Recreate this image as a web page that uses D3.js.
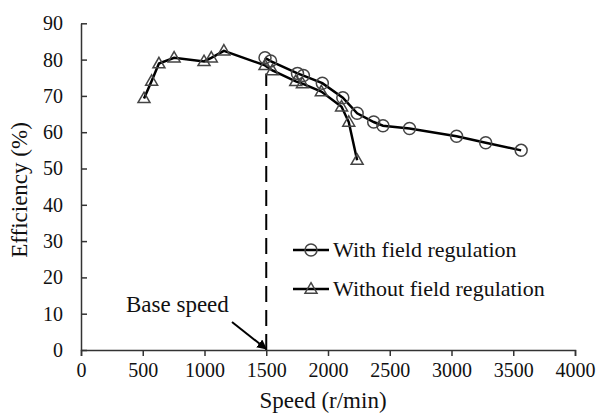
<!DOCTYPE html>
<html>
<head>
<meta charset="utf-8">
<script src="https://cdn.jsdelivr.net/npm/d3@7"></script>
<style>
  html, body { margin: 0; padding: 0; background: #fff; }
  svg { display: block; }
  text { font-family: "Liberation Serif", "Times New Roman", serif; fill: #111; }
</style>
</head>
<body>
<svg id="chart" width="600" height="414"></svg>
<script>
// ---- data ----
const xTicks = [0, 500, 1000, 1500, 2000, 2500, 3000, 3500, 4000];
const yTicks = [0, 10, 20, 30, 40, 50, 60, 70, 80, 90];

const withSpeed = [1490, 1535, 1753, 1801, 1954, 2120, 2236, 2370, 2445, 2660, 3041, 3277, 3564];
const withEff   = [80.5, 79.6, 76.2, 75.6, 73.5, 69.5, 65.2, 62.8, 61.8, 61.0, 58.9, 57.1, 55.0];

const withoutSpeed = [510, 572, 631, 754, 996, 1055, 1157, 1490, 1550, 1739, 1793, 1946, 2110, 2168, 2236];
const withoutEff   = [69.3, 74.1, 78.9, 80.5, 79.5, 80.5, 82.4, 78.4, 77.0, 74.0, 73.4, 71.2, 67.0, 62.8, 52.3];

const baseSpeed = 1500;
const baseEff = 80;
const seriesNames = ["With field regulation", "Without field regulation"];
const xTitle = "Speed (r/min)";
const yTitle = "Efficiency (%)";
const annotation = "Base speed";

// ---- chart ----
const svg = d3.select("#chart");
const x = d3.scaleLinear().domain([0, 4000]).range([81, 575]);
const y = d3.scaleLinear().domain([0, 90]).range([350, 23.3]);

const axisColor = "#333";

// defs for arrow
svg.append("defs").append("marker")
  .attr("id", "arrow").attr("viewBox", "0 0 10 10")
  .attr("refX", 9).attr("refY", 5)
  .attr("markerWidth", 5).attr("markerHeight", 5)
  .attr("orient", "auto")
  .append("path").attr("d", "M0,0 L10,5 L0,10 Z").attr("fill", "#000");

// axes
const gx = svg.append("g").attr("transform", `translate(0,${y(0)})`)
  .call(d3.axisBottom(x).tickValues(xTicks).tickSize(6).tickSizeOuter(6).tickPadding(7).tickFormat(d3.format("d")));
const gy = svg.append("g").attr("transform", `translate(${x(0)},0)`)
  .call(d3.axisLeft(y).tickValues(yTicks).tickSize(-6).tickSizeOuter(0).tickPadding(18).tickFormat(d3.format("d")));
[gx, gy].forEach(g => {
  g.selectAll("path, line").attr("stroke", axisColor).attr("stroke-width", 1.5);
  g.selectAll("text").attr("font-size", 20).attr("font-family", "Liberation Serif").attr("fill", "#111");
});

// titles
svg.append("text").attr("x", 323).attr("y", 408).attr("text-anchor", "middle")
  .attr("font-size", 23).text(xTitle);
svg.append("text").attr("transform", `translate(27,190) rotate(-90)`).attr("text-anchor", "middle")
  .attr("font-size", 23).text(yTitle);

// base speed dashed line
svg.append("line")
  .attr("x1", x(baseSpeed)).attr("x2", x(baseSpeed))
  .attr("y1", y(0)).attr("y2", y(baseEff) + 14)
  .attr("stroke", "#000").attr("stroke-width", 2).attr("stroke-dasharray", "16,8");

// annotation
svg.append("text").attr("x", 126).attr("y", 312).attr("font-size", 23).text(annotation);
svg.append("line")
  .attr("x1", 232).attr("y1", 322).attr("x2", x(baseSpeed)).attr("y2", y(0) - 1)
  .attr("stroke", "#000").attr("stroke-width", 2).attr("marker-end", "url(#arrow)");

// series
const withData = withSpeed.map((s, i) => ({ s, e: withEff[i] }));
const withoutData = withoutSpeed.map((s, i) => ({ s, e: withoutEff[i] }));
const line = d3.line().x(d => x(d.s)).y(d => y(d.e));

const triPath = (cx, cy, size) => {
  const h = size * 0.87;
  return `M${cx},${cy - h * 0.6} L${cx + size / 2},${cy + h * 0.4} L${cx - size / 2},${cy + h * 0.4} Z`;
};
const markerStroke = "#444";

svg.append("path").datum(withData).attr("d", line)
  .attr("fill", "none").attr("stroke", "#000").attr("stroke-width", 2.5);
svg.append("path").datum(withoutData).attr("d", line)
  .attr("fill", "none").attr("stroke", "#000").attr("stroke-width", 2.5);

svg.append("g").selectAll("path").data(withoutData).join("path")
  .attr("d", d => triPath(x(d.s), y(d.e), 12))
  .attr("fill", "none").attr("stroke", markerStroke).attr("stroke-width", 1.5);
svg.append("g").selectAll("circle").data(withData).join("circle")
  .attr("cx", d => x(d.s)).attr("cy", d => y(d.e)).attr("r", 6)
  .attr("fill", "none").attr("stroke", markerStroke).attr("stroke-width", 1.5);

// legend
const legend = svg.append("g");
const legRows = [{ name: seriesNames[0], yy: 250, type: "circle" }, { name: seriesNames[1], yy: 289, type: "tri" }];
legRows.forEach(r => {
  legend.append("line").attr("x1", 293).attr("x2", 329).attr("y1", r.yy).attr("y2", r.yy)
    .attr("stroke", "#000").attr("stroke-width", 2.5);
  if (r.type === "circle") {
    legend.append("circle").attr("cx", 311).attr("cy", r.yy).attr("r", 6)
      .attr("fill", "none").attr("stroke", markerStroke).attr("stroke-width", 1.5);
  } else {
    legend.append("path").attr("d", triPath(311, r.yy, 12))
      .attr("fill", "none").attr("stroke", markerStroke).attr("stroke-width", 1.5);
  }
  legend.append("text").attr("x", 333).attr("y", r.yy + 7).attr("font-size", 22).text(r.name);
});
</script>
</body>
</html>
